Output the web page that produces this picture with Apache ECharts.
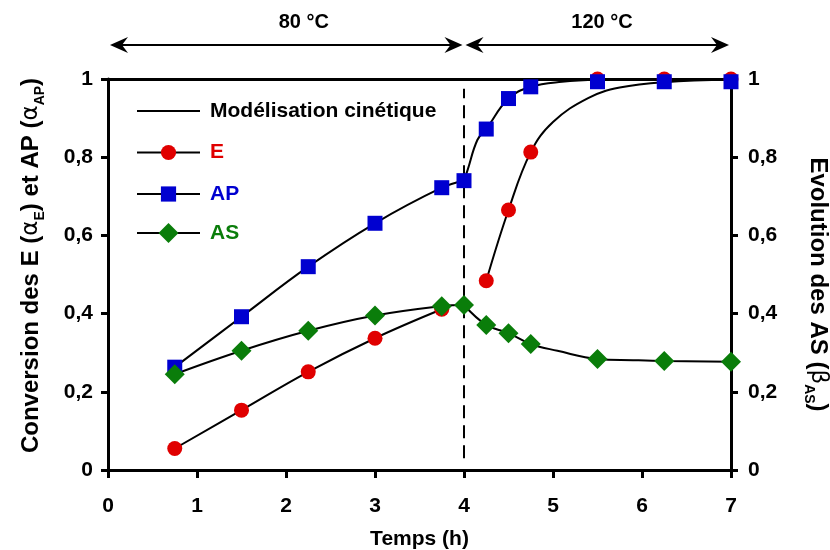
<!DOCTYPE html>
<html>
<head>
<meta charset="utf-8">
<script src="https://cdn.jsdelivr.net/npm/echarts@6/dist/echarts.min.js"></script>
<style>html,body{margin:0;padding:0;background:#fff}#c{width:830px;height:550px}</style>
</head>
<body>
<div id="c"></div>
<script>
// ---- measured points ----
const timeE  = [0.75, 1.5, 2.25, 3, 3.75, 4.25, 4.5, 4.75, 5.5, 6.25, 7];
const valE   = [0.055, 0.153, 0.251, 0.337, 0.411, 0.484, 0.665, 0.813, 1.0, 1.0, 1.0];
const timeAP = [0.75, 1.5, 2.25, 3, 3.75, 4, 4.25, 4.5, 4.75, 5.5, 6.25, 7];
const valAP  = [0.263, 0.392, 0.52, 0.631, 0.722, 0.74, 0.872, 0.95, 0.98, 0.993, 0.993, 0.993];
const timeAS = [0.75, 1.5, 2.25, 3, 3.75, 4, 4.25, 4.5, 4.75, 5.5, 6.25, 7];
const valAS  = [0.245, 0.305, 0.356, 0.395, 0.419, 0.422, 0.371, 0.35, 0.322, 0.284, 0.279, 0.277];

// ---- kinetic model curves ----
const modE1T  = [0.75, 1.5, 2.25, 3, 3.75];
const modE1   = [0.055, 0.153, 0.251, 0.337, 0.411];
const modE2T  = [4.25, 4.5, 4.75, 5.0, 5.4, 5.75, 6.25, 7];
const modE2   = [0.484, 0.665, 0.813, 0.89, 0.952, 0.978, 0.992, 0.998];
const modAP1T = [0.75, 1.5, 2.25, 3, 3.75, 4];
const modAP1  = [0.263, 0.392, 0.52, 0.631, 0.722, 0.74];
const modAP2T = [4, 4.04, 4.15, 4.25, 4.5, 4.75, 5.1, 5.5, 7];
const modAP2  = [0.74, 0.767, 0.844, 0.872, 0.95, 0.98, 0.993, 0.998, 1.0];
const modAS1T = [0.75, 1.5, 2.25, 3, 3.75, 4];
const modAS1  = [0.245, 0.305, 0.356, 0.395, 0.419, 0.422];
const modAS2T = [4, 4.25, 4.5, 4.75, 5.05, 5.5, 5.9, 6.25, 7];
const modAS2  = [0.422, 0.371, 0.35, 0.322, 0.305, 0.284, 0.281, 0.279, 0.277];

const xTicks = [0, 1, 2, 3, 4, 5, 6, 7];
const yTicks = [0, 0.2, 0.4, 0.6, 0.8, 1];
const phaseLabels = ['80 °C', '120 °C'];
const phaseBounds = [0, 4, 7];
const phaseLabelX = [2.2, 5.55];

const FONT = '"Liberation Sans", Arial, Helvetica, sans-serif';
const RED = '#e00000', BLUE = '#0000d0', GREEN = '#0a7d0a';
const MODEL = 'Modélisation cinétique';

const pairs = (t, v) => t.map((x, i) => [x, v[i]]);
const fmt = v => String(+(+v).toFixed(1)).replace('.', ',');

const tickLabel = {fontFamily: FONT, fontSize: 21, fontWeight: 'bold', color: '#000'};
const axisLineStyle = {color: '#000', width: 3};

function modelSeries(t, v, yIdx) {
  return {
    name: MODEL, type: 'line', yAxisIndex: yIdx || 0, data: pairs(t, v),
    smooth: 0.4, symbol: 'none', z: 2, silent: true,
    lineStyle: {color: '#000', width: 2}, itemStyle: {color: '#000'}
  };
}
function markerSeries(name, t, v, sym, size, color, yIdx) {
  return {
    name: name, type: 'line', yAxisIndex: yIdx || 0, data: pairs(t, v),
    symbol: sym, symbolSize: size, showSymbol: true, showAllSymbol: true, z: 5,
    lineStyle: {width: 0, opacity: 0, color: '#000'},
    itemStyle: {color: color, opacity: 1}
  };
}

const chart = echarts.init(document.getElementById('c'), null, {renderer: 'canvas'});

const seE = markerSeries('E', timeE, valE, 'circle', 15, RED, 0);
const seAP = markerSeries('AP', timeAP, valAP, 'rect', 15, BLUE, 0);
const seAS = markerSeries('AS', timeAS, valAS, 'diamond', 20, GREEN, 1);
seE.markLine = {
  silent: true, symbol: ['none', 'none'], label: {show: false},
  lineStyle: {color: '#000', width: 2, type: [13, 7]},
  data: [[{coord: [phaseBounds[1], 0.03]}, {coord: [phaseBounds[1], 0.975]}]]
};

function nameRich(size) {
  return {
    b: {fontFamily: FONT, fontSize: size, fontWeight: 'bold', color: '#000', lineHeight: 32, verticalAlign: 'middle'},
    a: {fontFamily: '"DejaVu Sans", sans-serif', fontSize: size - 1, color: '#000', lineHeight: 32, verticalAlign: 'middle'},
    s: {fontFamily: FONT, fontSize: 14, fontWeight: 'bold', color: '#000', lineHeight: 13, verticalAlign: 'bottom'}
  };
}
const legendText = {fontFamily: FONT, fontSize: 21, fontWeight: 'bold', lineHeight: 22, padding: [0, 0, 0, 5]};
const legendLine = {color: '#000', width: 2, opacity: 1};

const option = {
  animation: false,
  backgroundColor: '#fff',
  grid: {left: 108, right: 99, top: 79, bottom: 80, containLabel: false, outerBoundsMode: 'none'},
  xAxis: [{
    type: 'value', min: xTicks[0], max: xTicks[xTicks.length - 1], interval: 1, position: 'bottom',
    axisLine: {show: true, onZero: false, lineStyle: axisLineStyle},
    axisTick: {show: true, inside: false, length: 8, lineStyle: {color: '#000', width: 3}},
    axisLabel: Object.assign({margin: 26, formatter: fmt}, tickLabel),
    splitLine: {show: false},
    name: 'Temps (h)', nameLocation: 'middle', nameGap: 59,
    nameTextStyle: {fontFamily: FONT, fontSize: 21, fontWeight: 'bold', color: '#000'}
  }, {
    type: 'value', min: 0, max: 7, position: 'top',
    axisLine: {show: true, onZero: false, lineStyle: axisLineStyle},
    axisTick: {show: false}, axisLabel: {show: false}, splitLine: {show: false}
  }],
  yAxis: [{
    type: 'value', min: yTicks[0], max: yTicks[yTicks.length - 1], interval: 0.2, position: 'left',
    axisLine: {show: true, onZero: false, lineStyle: axisLineStyle},
    axisTick: {show: true, length: 7, lineStyle: {color: '#000', width: 3}},
    axisLabel: Object.assign({margin: 15, formatter: fmt}, tickLabel),
    splitLine: {show: false},
    name: '{b|Conversion des E (}{a|α}{s|E}{b|) et AP (}{a|α}{s|AP}{b|)}',
    nameLocation: 'middle', nameGap: 61, nameRotate: 90,
    nameTextStyle: {padding: [0, 0, 0, 18], rich: nameRich(24)}
  }, {
    type: 'value', min: yTicks[0], max: yTicks[yTicks.length - 1], interval: 0.2, position: 'right',
    axisLine: {show: true, onZero: false, lineStyle: axisLineStyle},
    axisTick: {show: true, length: 7, lineStyle: {color: '#000', width: 3}},
    axisLabel: Object.assign({margin: 17, formatter: fmt}, tickLabel),
    splitLine: {show: false},
    name: '{b|Evolution des AS (}{a|β}{s|AS}{b|)}',
    nameLocation: 'middle', nameGap: 71, nameRotate: -90,
    nameTextStyle: {padding: [0, 0, 0, 20], rich: nameRich(24)}
  }],
  legend: [{
    orient: 'vertical', left: 131, top: 95, itemWidth: 63, itemHeight: 19, itemGap: 19.5,
    selectedMode: false, textStyle: legendText,
    data: [
      {name: MODEL, textStyle: {color: '#000'}, itemStyle: {opacity: 0}, lineStyle: legendLine},
      {name: 'E', textStyle: {color: RED}, lineStyle: legendLine},
      {name: 'AP', textStyle: {color: BLUE}, lineStyle: legendLine}
    ]
  }, {
    orient: 'vertical', left: 131, top: 217, itemWidth: 63, itemHeight: 25,
    selectedMode: false, textStyle: legendText,
    data: [
      {name: 'AS', textStyle: {color: GREEN}, lineStyle: legendLine}
    ]
  }],
  series: [
    modelSeries(modE1T, modE1, 0),
    modelSeries(modE2T, modE2, 0),
    modelSeries(modAP1T, modAP1, 0),
    modelSeries(modAP2T, modAP2, 0),
    modelSeries(modAS1T, modAS1, 1),
    modelSeries(modAS2T, modAS2, 1),
    seE, seAP, seAS
  ]
};
chart.setOption(option);

// ---- temperature-phase arrows above the plot ----
function px(x) { return chart.convertToPixel({xAxisIndex: 0}, x); }
function arrowHead(x, y, dir) {
  const L = 18, W = 8, N = 12;
  return {
    type: 'polygon', silent: true,
    shape: {points: [[x, y], [x + dir * L, y - W], [x + dir * N, y], [x + dir * L, y + W]]},
    style: {fill: '#000'}
  };
}
const Y_ARROW = 45, Y_TEXT = 22;
const graphics = [];
for (let i = 0; i < phaseLabels.length; i++) {
  const a = px(phaseBounds[i]) + (i === 0 ? 2 : 1.5);
  const b = px(phaseBounds[i + 1]) - (i === 0 ? 1.5 : 2);
  graphics.push({type: 'line', silent: true, shape: {x1: a + 4, y1: Y_ARROW, x2: b - 4, y2: Y_ARROW},
    style: {stroke: '#000', lineWidth: 2}});
  graphics.push(arrowHead(a, Y_ARROW, 1));
  graphics.push(arrowHead(b, Y_ARROW, -1));
  graphics.push({type: 'text', silent: true, x: px(phaseLabelX[i]), y: Y_TEXT,
    style: {text: phaseLabels[i], fontFamily: FONT, fontSize: 20, fontWeight: 'bold', fill: '#000',
      align: 'center', verticalAlign: 'middle'}});
}
chart.setOption({graphic: graphics});
</script>
</body>
</html>
